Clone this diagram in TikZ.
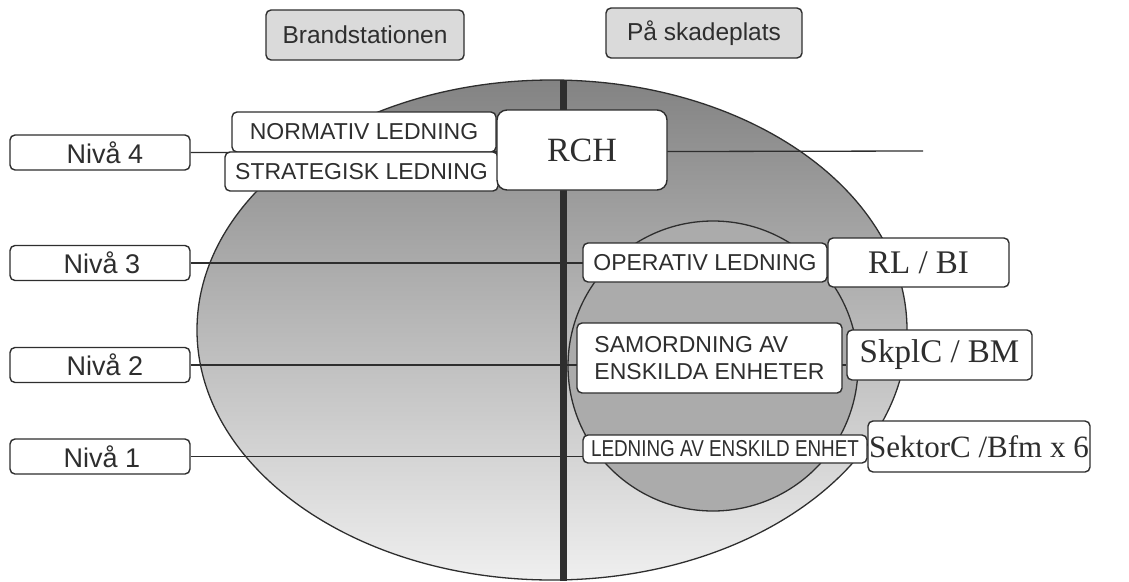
\documentclass[tikz,border=0pt]{standalone}
\usepackage{fontspec}
\setmainfont{Liberation Sans}
\newfontfamily\romanfont{Liberation Serif}
\definecolor{ink}{HTML}{2E2E2E}
\definecolor{titlegray}{HTML}{DADADA}
\definecolor{outertop}{HTML}{838383}
\definecolor{outerbot}{HTML}{EFEFEF}
\definecolor{innergray}{HTML}{ABABAB}
\pgfdeclarelayer{back}
\pgfdeclarelayer{mid}
\pgfsetlayers{back,mid,main}
\begin{document}
\begin{tikzpicture}[x=1pt,y=-1pt,
    box/.style={draw=ink,line width=1.4pt,rounded corners=5pt,fill=white,text=ink,inner sep=0pt},
    nivabox/.style={box,minimum width=180pt,minimum height=35pt,font=\fontsize{27}{30}\selectfont},
    titlebox/.style={box,fill=titlegray,minimum height=50pt,font=\fontsize{24.5}{27}\selectfont},
    taskbox/.style={box,font=\fontsize{23}{27}\selectfont},
    rolebox/.style={box,font=\romanfont\fontsize{33}{36}\selectfont},
    level/.style={draw=ink,line width=1.3pt}]
            \useasboundingbox (0,0) rectangle (1129,581);

            \node[titlebox,minimum width=198pt] (brand) at (365,35) {Brandstationen};
            \node[titlebox,minimum width=196pt] (skade) at (704,33) {På skadeplats};

            \node[nivabox] (niva4) at (100,152.5) {\hspace*{10pt}Nivå 4};
            \node[nivabox] (niva3) at (100,263) {\hspace*{4pt}Nivå 3};
            \node[nivabox] (niva2) at (100,365) {\hspace*{10pt}Nivå 2};
            \node[nivabox] (niva1) at (100,456.5) {\hspace*{4pt}Nivå 1};

            \node[taskbox,minimum width=264pt,minimum height=40pt] (normativ) at (364,132) {NORMATIV LEDNING};
            \node[taskbox,minimum width=273pt,minimum height=39pt] (strategisk) at (361.5,171.5) {STRATEGISK LEDNING};
            \node[rolebox,rounded corners=10pt,minimum width=170pt,minimum height=80pt,font=\romanfont\fontsize{34}{36}\selectfont] (rch) at (582,150) {RCH};
            \coordinate (rchend) at (923,151);

            \node[taskbox,minimum width=244pt,minimum height=39pt] (operativ) at (705,262.5) {OPERATIV LEDNING};
            \node[rolebox,minimum width=181pt,minimum height=49pt] (rlbi) at (918.5,262.5) {RL / BI};
            \node[taskbox,align=left,minimum width=265pt,minimum height=70pt] (samordning) at (709.5,358) {SAMORDNING AV\\ENSKILDA ENHETER};
            \node[rolebox,minimum width=185pt,minimum height=50pt] (skplc) at (939.5,355) {SkplC / BM};
            \node[taskbox,minimum width=284pt,minimum height=28pt] (enskild) at (725,449) {\scalebox{0.82}[1]{LEDNING AV ENSKILD ENHET}};
            \node[rolebox,minimum width=222pt,minimum height=51pt,font=\romanfont\fontsize{31}{34}\selectfont] (sektor) at (979,446.5) {SektorC /Bfm x 6};

            \coordinate (bartop) at (563,80);
            \coordinate (barbot) at (563,581);

            \begin{pgfonlayer}{back}
              \draw[ink,line width=1.3pt,top color=outertop,bottom color=outerbot] (552,330) ellipse [x radius=355pt,y radius=250pt];
              \draw[ink,line width=1.3pt,fill=innergray] (713,366) circle [radius=145pt];
            \end{pgfonlayer}

            \begin{pgfonlayer}{mid}
              \draw[level] (niva4.east) -- (rchend);
              \draw[level] (niva3.east) -- (rlbi.west |- niva3.east);
              \draw[level] (niva2.east) -- (skplc.west |- niva2.east);
              \draw[level] (niva1.east) -- (sektor.west |- niva1.east);
              \draw[ink,line width=7pt] (bartop) -- (barbot);
            \end{pgfonlayer}
\end{tikzpicture}
\end{document}
